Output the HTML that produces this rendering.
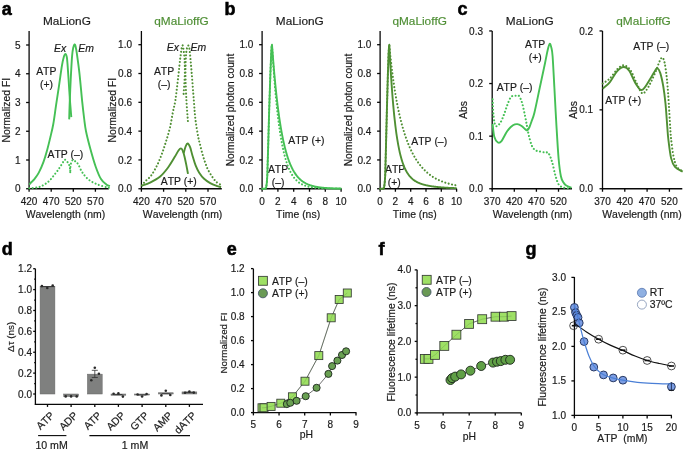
<!DOCTYPE html>
<html><head><meta charset="utf-8"><style>
html,body{margin:0;padding:0;background:#fff;}
svg{display:block;will-change:transform;font-family:"Liberation Sans", sans-serif;font-kerning:none;}
</style></head><body>
<svg width="685" height="452" viewBox="0 0 685 452">
<rect width="685" height="452" fill="#fff"/>
<text x="1.8" y="14.6" font-size="18" text-anchor="start" fill="#000" stroke="#000" stroke-width="0.55" font-weight="bold">a</text>
<text x="224.6" y="14.6" font-size="18" text-anchor="start" fill="#000" stroke="#000" stroke-width="0.55" font-weight="bold">b</text>
<text x="457.6" y="14.6" font-size="18" text-anchor="start" fill="#000" stroke="#000" stroke-width="0.55" font-weight="bold">c</text>
<text x="1.8" y="254.7" font-size="18" text-anchor="start" fill="#000" stroke="#000" stroke-width="0.55" font-weight="bold">d</text>
<text x="226.8" y="255.2" font-size="18" text-anchor="start" fill="#000" stroke="#000" stroke-width="0.55" font-weight="bold">e</text>
<text x="378.6" y="255.2" font-size="18" text-anchor="start" fill="#000" stroke="#000" stroke-width="0.55" font-weight="bold">f</text>
<text x="525.6" y="255.2" font-size="18" text-anchor="start" fill="#000" stroke="#000" stroke-width="0.55" font-weight="bold">g</text>
<line x1="29.1" y1="31" x2="29.1" y2="189.3" stroke="#080808" stroke-width="1.3" />
<line x1="26.1" y1="188.75" x2="29.1" y2="188.75" stroke="#080808" stroke-width="1.3" />
<text x="20.6" y="192.33" font-size="10" text-anchor="end" fill="#1b1b1b" stroke="#1b1b1b" stroke-width="0.18">0</text>
<line x1="26.1" y1="160" x2="29.1" y2="160" stroke="#080808" stroke-width="1.3" />
<text x="20.6" y="163.58" font-size="10" text-anchor="end" fill="#1b1b1b" stroke="#1b1b1b" stroke-width="0.18">1</text>
<line x1="26.1" y1="131.25" x2="29.1" y2="131.25" stroke="#080808" stroke-width="1.3" />
<text x="20.6" y="134.83" font-size="10" text-anchor="end" fill="#1b1b1b" stroke="#1b1b1b" stroke-width="0.18">2</text>
<line x1="26.1" y1="102.5" x2="29.1" y2="102.5" stroke="#080808" stroke-width="1.3" />
<text x="20.6" y="106.08" font-size="10" text-anchor="end" fill="#1b1b1b" stroke="#1b1b1b" stroke-width="0.18">3</text>
<line x1="26.1" y1="73.75" x2="29.1" y2="73.75" stroke="#080808" stroke-width="1.3" />
<text x="20.6" y="77.33" font-size="10" text-anchor="end" fill="#1b1b1b" stroke="#1b1b1b" stroke-width="0.18">4</text>
<line x1="26.1" y1="45" x2="29.1" y2="45" stroke="#080808" stroke-width="1.3" />
<text x="20.6" y="48.58" font-size="10" text-anchor="end" fill="#1b1b1b" stroke="#1b1b1b" stroke-width="0.18">5</text>
<line x1="28.55" y1="188.75" x2="108.8" y2="188.75" stroke="#080808" stroke-width="1.3" />
<line x1="29.1" y1="188.75" x2="29.1" y2="191.75" stroke="#080808" stroke-width="1.3" />
<text x="29.1" y="204.88" font-size="10" text-anchor="middle" fill="#1b1b1b" stroke="#1b1b1b" stroke-width="0.18">420</text>
<line x1="51.2" y1="188.75" x2="51.2" y2="191.75" stroke="#080808" stroke-width="1.3" />
<text x="51.2" y="204.88" font-size="10" text-anchor="middle" fill="#1b1b1b" stroke="#1b1b1b" stroke-width="0.18">470</text>
<line x1="73.3" y1="188.75" x2="73.3" y2="191.75" stroke="#080808" stroke-width="1.3" />
<text x="73.3" y="204.88" font-size="10" text-anchor="middle" fill="#1b1b1b" stroke="#1b1b1b" stroke-width="0.18">520</text>
<line x1="95.4" y1="188.75" x2="95.4" y2="191.75" stroke="#080808" stroke-width="1.3" />
<text x="95.4" y="204.88" font-size="10" text-anchor="middle" fill="#1b1b1b" stroke="#1b1b1b" stroke-width="0.18">570</text>
<text x="10.2" y="110.2" font-size="10.4" text-anchor="middle" fill="#1b1b1b" stroke="#1b1b1b" stroke-width="0.18" transform="rotate(-90 10.2 110.2)">Normalized FI</text>
<text x="65.4" y="217.84" font-size="10.45" text-anchor="middle" fill="#1b1b1b" stroke="#1b1b1b" stroke-width="0.18">Wavelength (nm)</text>
<text x="66.9" y="24.7" font-size="11.8" text-anchor="middle" fill="#1b1b1b" stroke="#1b1b1b" stroke-width="0.18">MaLionG</text>
<text x="60.1" y="51.72" font-size="10.4" text-anchor="middle" fill="#1b1b1b" stroke="#1b1b1b" stroke-width="0.18" font-style="italic">Ex</text>
<text x="86" y="51.72" font-size="10.4" text-anchor="middle" fill="#1b1b1b" stroke="#1b1b1b" stroke-width="0.18" font-style="italic">Em</text>
<text x="46.3" y="74.92" font-size="10.4" text-anchor="middle" fill="#1b1b1b" stroke="#1b1b1b" stroke-width="0.18">ATP</text>
<text x="46.5" y="88.02" font-size="10.4" text-anchor="middle" fill="#1b1b1b" stroke="#1b1b1b" stroke-width="0.18">(+)</text>
<text x="65.4" y="157.72" font-size="10.4" text-anchor="middle" fill="#1b1b1b" stroke="#1b1b1b" stroke-width="0.18">ATP (–)</text>
<path d="M29.3,184.6 C29.67,184.17 30.68,182.87 31.5,182 C32.32,181.13 32.98,180.97 34.2,179.4 C35.42,177.83 37.25,175.53 38.8,172.6 C40.35,169.67 42.08,165.67 43.5,161.8 C44.92,157.93 46.15,153.53 47.3,149.4 C48.45,145.27 49.4,141.23 50.4,137 C51.4,132.77 52.37,129.22 53.3,124 C54.23,118.78 55.05,112.07 56,105.7 C56.95,99.33 58.02,92.43 59,85.8 C59.98,79.17 61.1,70.7 61.9,65.9 C62.7,61.1 63.2,59 63.8,57 C64.4,55 65,53.9 65.5,53.9 C66,53.9 66.47,55.33 66.8,57 C67.13,58.67 67.2,60.1 67.5,63.9 C67.8,67.7 68.2,73.83 68.6,79.8 C69,85.77 69.45,93.48 69.9,99.7 C70.35,105.92 71.07,114.2 71.3,117.1" fill="none" stroke="#45c055" stroke-width="1.9" stroke-linejoin="round" />
<path d="M69.2,119.4 C69.27,117.12 69.35,112.3 69.6,105.7 C69.85,99.1 70.28,88.1 70.7,79.8 C71.12,71.5 71.67,61.28 72.1,55.9 C72.53,50.52 72.9,49.42 73.3,47.5 C73.7,45.58 74.12,44.57 74.5,44.4 C74.88,44.23 75.2,44.92 75.6,46.5 C76,48.08 76.25,49.35 76.9,53.9 C77.55,58.45 78.62,65.83 79.5,73.8 C80.38,81.77 81.42,94.17 82.2,101.7 C82.98,109.23 83.57,114.08 84.2,119 C84.83,123.92 84.97,126.2 86,131.2 C87.03,136.2 88.78,143.08 90.4,149 C92.02,154.92 93.93,161.68 95.7,166.7 C97.47,171.72 99.23,176.15 101,179.1 C102.77,182.05 104.82,183.23 106.3,184.4 C107.78,185.57 109.3,185.82 109.9,186.1" fill="none" stroke="#45c055" stroke-width="1.9" stroke-linejoin="round" />
<path d="M29.3,188.3 C31.02,188.07 36.47,187.97 39.6,186.9 C42.73,185.83 45.6,183.95 48.1,181.9 C50.6,179.85 52.63,177.05 54.6,174.6 C56.57,172.15 58.42,169.38 59.9,167.2 C61.38,165.02 62.63,162.75 63.5,161.5 C64.37,160.25 64.37,159.5 65.1,159.7 C65.83,159.9 67.13,161.58 67.9,162.7 C68.67,163.82 69.3,164.77 69.7,166.4 C70.1,168.03 70.2,171.48 70.3,172.5" fill="none" stroke="#45c055" stroke-width="2.1" stroke-linejoin="round" stroke-dasharray="0.01 3.45" stroke-linecap="round" />
<path d="M70.3,170.5 C70.38,169.42 70.38,165.77 70.8,164 C71.22,162.23 72.02,160.32 72.8,159.9 C73.58,159.48 74.58,160.73 75.5,161.5 C76.42,162.27 77.22,162.77 78.3,164.5 C79.38,166.23 80.37,169.45 82,171.9 C83.63,174.35 85.65,177.17 88.1,179.2 C90.55,181.23 93.63,182.77 96.7,184.1 C99.77,185.43 104.45,186.58 106.5,187.2 C108.55,187.82 108.58,187.7 109,187.8" fill="none" stroke="#45c055" stroke-width="2.1" stroke-linejoin="round" stroke-dasharray="0.01 3.45" stroke-linecap="round" />
<line x1="141.4" y1="31" x2="141.4" y2="189.3" stroke="#080808" stroke-width="1.3" />
<line x1="138.4" y1="188.75" x2="141.4" y2="188.75" stroke="#080808" stroke-width="1.3" />
<text x="132" y="192.33" font-size="10" text-anchor="end" fill="#1b1b1b" stroke="#1b1b1b" stroke-width="0.18">0.0</text>
<line x1="138.4" y1="159.94" x2="141.4" y2="159.94" stroke="#080808" stroke-width="1.3" />
<text x="132" y="163.52" font-size="10" text-anchor="end" fill="#1b1b1b" stroke="#1b1b1b" stroke-width="0.18">0.2</text>
<line x1="138.4" y1="131.13" x2="141.4" y2="131.13" stroke="#080808" stroke-width="1.3" />
<text x="132" y="134.71" font-size="10" text-anchor="end" fill="#1b1b1b" stroke="#1b1b1b" stroke-width="0.18">0.4</text>
<line x1="138.4" y1="102.32" x2="141.4" y2="102.32" stroke="#080808" stroke-width="1.3" />
<text x="132" y="105.9" font-size="10" text-anchor="end" fill="#1b1b1b" stroke="#1b1b1b" stroke-width="0.18">0.6</text>
<line x1="138.4" y1="73.51" x2="141.4" y2="73.51" stroke="#080808" stroke-width="1.3" />
<text x="132" y="77.09" font-size="10" text-anchor="end" fill="#1b1b1b" stroke="#1b1b1b" stroke-width="0.18">0.8</text>
<line x1="138.4" y1="44.7" x2="141.4" y2="44.7" stroke="#080808" stroke-width="1.3" />
<text x="132" y="48.28" font-size="10" text-anchor="end" fill="#1b1b1b" stroke="#1b1b1b" stroke-width="0.18">1.0</text>
<line x1="140.85" y1="188.75" x2="221.8" y2="188.75" stroke="#080808" stroke-width="1.3" />
<line x1="141.4" y1="188.75" x2="141.4" y2="191.75" stroke="#080808" stroke-width="1.3" />
<text x="141.4" y="204.88" font-size="10" text-anchor="middle" fill="#1b1b1b" stroke="#1b1b1b" stroke-width="0.18">420</text>
<line x1="163.6" y1="188.75" x2="163.6" y2="191.75" stroke="#080808" stroke-width="1.3" />
<text x="163.6" y="204.88" font-size="10" text-anchor="middle" fill="#1b1b1b" stroke="#1b1b1b" stroke-width="0.18">470</text>
<line x1="185.8" y1="188.75" x2="185.8" y2="191.75" stroke="#080808" stroke-width="1.3" />
<text x="185.8" y="204.88" font-size="10" text-anchor="middle" fill="#1b1b1b" stroke="#1b1b1b" stroke-width="0.18">520</text>
<line x1="208" y1="188.75" x2="208" y2="191.75" stroke="#080808" stroke-width="1.3" />
<text x="208" y="204.88" font-size="10" text-anchor="middle" fill="#1b1b1b" stroke="#1b1b1b" stroke-width="0.18">570</text>
<text x="115.6" y="110.2" font-size="10.4" text-anchor="middle" fill="#1b1b1b" stroke="#1b1b1b" stroke-width="0.18" transform="rotate(-90 115.6 110.2)">Normalized FI</text>
<text x="182.6" y="217.84" font-size="10.45" text-anchor="middle" fill="#1b1b1b" stroke="#1b1b1b" stroke-width="0.18">Wavelength (nm)</text>
<text x="181.5" y="24.7" font-size="11.8" text-anchor="middle" fill="#4f8f35" stroke="#4f8f35" stroke-width="0.18">qMaLioffG</text>
<text x="172.8" y="51.22" font-size="10.4" text-anchor="middle" fill="#1b1b1b" stroke="#1b1b1b" stroke-width="0.18" font-style="italic">Ex</text>
<text x="198.4" y="51.22" font-size="10.4" text-anchor="middle" fill="#1b1b1b" stroke="#1b1b1b" stroke-width="0.18" font-style="italic">Em</text>
<text x="164" y="75.12" font-size="10.4" text-anchor="middle" fill="#1b1b1b" stroke="#1b1b1b" stroke-width="0.18">ATP</text>
<text x="164.2" y="88.02" font-size="10.4" text-anchor="middle" fill="#1b1b1b" stroke="#1b1b1b" stroke-width="0.18">(–)</text>
<text x="178.8" y="184.52" font-size="10.4" text-anchor="middle" fill="#1b1b1b" stroke="#1b1b1b" stroke-width="0.18">ATP (+)</text>
<path d="M142,185.6 C143.33,185.1 147.02,184.08 150,182.6 C152.98,181.12 156.92,179.18 159.9,176.7 C162.88,174.22 165.42,171.02 167.9,167.7 C170.38,164.38 173.03,159.67 174.8,156.8 C176.57,153.93 177.47,151.9 178.5,150.5 C179.53,149.1 180.28,148.35 181,148.4 C181.72,148.45 182.2,149.38 182.8,150.8 C183.4,152.22 184,154.47 184.6,156.9 C185.2,159.33 185.83,162.57 186.4,165.4 C186.97,168.23 187.73,172.48 188,173.9" fill="none" stroke="#4f8f33" stroke-width="1.9" stroke-linejoin="round" />
<path d="M183.6,153.3 C183.93,152.17 184.93,148.13 185.6,146.5 C186.27,144.87 186.85,143.38 187.6,143.5 C188.35,143.62 189.28,145.17 190.1,147.2 C190.92,149.23 191.58,152.67 192.5,155.7 C193.42,158.73 194.48,162.57 195.6,165.4 C196.72,168.23 197.78,170.47 199.2,172.7 C200.62,174.93 202.27,177.07 204.1,178.8 C205.93,180.53 207.97,181.88 210.2,183.1 C212.43,184.32 215.68,185.43 217.5,186.1 C219.32,186.77 220.5,186.93 221.1,187.1" fill="none" stroke="#4f8f33" stroke-width="1.9" stroke-linejoin="round" />
<path d="M142,185.5 C142.5,184.85 143.5,183.23 145,181.6 C146.5,179.97 149.02,178.35 151,175.7 C152.98,173.05 155.08,169.35 156.9,165.7 C158.72,162.05 160.4,157.78 161.9,153.8 C163.4,149.82 164.57,146.12 165.9,141.8 C167.23,137.48 168.73,132.87 169.9,127.9 C171.07,122.93 171.98,116.65 172.9,112 C173.82,107.35 174.5,106 175.4,100 C176.3,94 177.47,83.17 178.3,76 C179.13,68.83 179.73,62.08 180.4,57 C181.07,51.92 181.77,46.67 182.3,45.5 C182.83,44.33 183.22,47.58 183.6,50 C183.98,52.42 184.4,55.83 184.6,60 C184.8,64.17 184.98,69.08 184.8,75 C184.62,80.92 183.72,92.08 183.5,95.5" fill="none" stroke="#4f8f33" stroke-width="2.1" stroke-linejoin="round" stroke-dasharray="0.01 3.45" stroke-linecap="round" />
<path d="M187.9,121 C187.65,117.5 186.8,107.67 186.4,100 C186,92.33 185.58,82.17 185.5,75 C185.42,67.83 185.68,61.33 185.9,57 C186.12,52.67 186.42,50.92 186.8,49 C187.18,47.08 187.73,45.33 188.2,45.5 C188.67,45.67 189.03,45.58 189.6,50 C190.17,54.42 190.9,63.67 191.6,72 C192.3,80.33 193.17,92.17 193.8,100 C194.43,107.83 194.67,112.87 195.4,119 C196.13,125.13 197.47,132.72 198.2,136.8 C198.93,140.88 199.18,140.97 199.8,143.5 C200.42,146.03 201.08,149.05 201.9,152 C202.72,154.95 203.73,158.35 204.7,161.2 C205.67,164.05 206.48,166.57 207.7,169.1 C208.92,171.63 210.58,174.28 212,176.4 C213.42,178.52 214.72,180.38 216.2,181.8 C217.68,183.22 220.12,184.38 220.9,184.9" fill="none" stroke="#4f8f33" stroke-width="2.1" stroke-linejoin="round" stroke-dasharray="0.01 3.45" stroke-linecap="round" />
<line x1="262.1" y1="31" x2="262.1" y2="189.3" stroke="#080808" stroke-width="1.3" />
<line x1="259.1" y1="188.75" x2="262.1" y2="188.75" stroke="#080808" stroke-width="1.3" />
<text x="253.4" y="192.33" font-size="10" text-anchor="end" fill="#1b1b1b" stroke="#1b1b1b" stroke-width="0.18">0.0</text>
<line x1="259.1" y1="159.94" x2="262.1" y2="159.94" stroke="#080808" stroke-width="1.3" />
<text x="253.4" y="163.52" font-size="10" text-anchor="end" fill="#1b1b1b" stroke="#1b1b1b" stroke-width="0.18">0.2</text>
<line x1="259.1" y1="131.13" x2="262.1" y2="131.13" stroke="#080808" stroke-width="1.3" />
<text x="253.4" y="134.71" font-size="10" text-anchor="end" fill="#1b1b1b" stroke="#1b1b1b" stroke-width="0.18">0.4</text>
<line x1="259.1" y1="102.32" x2="262.1" y2="102.32" stroke="#080808" stroke-width="1.3" />
<text x="253.4" y="105.9" font-size="10" text-anchor="end" fill="#1b1b1b" stroke="#1b1b1b" stroke-width="0.18">0.6</text>
<line x1="259.1" y1="73.51" x2="262.1" y2="73.51" stroke="#080808" stroke-width="1.3" />
<text x="253.4" y="77.09" font-size="10" text-anchor="end" fill="#1b1b1b" stroke="#1b1b1b" stroke-width="0.18">0.8</text>
<line x1="259.1" y1="44.7" x2="262.1" y2="44.7" stroke="#080808" stroke-width="1.3" />
<text x="253.4" y="48.28" font-size="10" text-anchor="end" fill="#1b1b1b" stroke="#1b1b1b" stroke-width="0.18">1.0</text>
<line x1="261.55" y1="188.75" x2="341.5" y2="188.75" stroke="#080808" stroke-width="1.3" />
<line x1="262.1" y1="188.75" x2="262.1" y2="191.75" stroke="#080808" stroke-width="1.3" />
<text x="262.1" y="204.88" font-size="10" text-anchor="middle" fill="#1b1b1b" stroke="#1b1b1b" stroke-width="0.18">0</text>
<line x1="277.9" y1="188.75" x2="277.9" y2="191.75" stroke="#080808" stroke-width="1.3" />
<text x="277.9" y="204.88" font-size="10" text-anchor="middle" fill="#1b1b1b" stroke="#1b1b1b" stroke-width="0.18">2</text>
<line x1="293.7" y1="188.75" x2="293.7" y2="191.75" stroke="#080808" stroke-width="1.3" />
<text x="293.7" y="204.88" font-size="10" text-anchor="middle" fill="#1b1b1b" stroke="#1b1b1b" stroke-width="0.18">4</text>
<line x1="309.5" y1="188.75" x2="309.5" y2="191.75" stroke="#080808" stroke-width="1.3" />
<text x="309.5" y="204.88" font-size="10" text-anchor="middle" fill="#1b1b1b" stroke="#1b1b1b" stroke-width="0.18">6</text>
<line x1="325.3" y1="188.75" x2="325.3" y2="191.75" stroke="#080808" stroke-width="1.3" />
<text x="325.3" y="204.88" font-size="10" text-anchor="middle" fill="#1b1b1b" stroke="#1b1b1b" stroke-width="0.18">8</text>
<line x1="341.1" y1="188.75" x2="341.1" y2="191.75" stroke="#080808" stroke-width="1.3" />
<text x="341.1" y="204.88" font-size="10" text-anchor="middle" fill="#1b1b1b" stroke="#1b1b1b" stroke-width="0.18">10</text>
<text x="233.6" y="110" font-size="10.15" text-anchor="middle" fill="#1b1b1b" stroke="#1b1b1b" stroke-width="0.18" transform="rotate(-90 233.6 110)">Normalized photon count</text>
<text x="298.1" y="217.84" font-size="10.45" text-anchor="middle" fill="#1b1b1b" stroke="#1b1b1b" stroke-width="0.18">Time (ns)</text>
<text x="299.8" y="24.7" font-size="11.8" text-anchor="middle" fill="#1b1b1b" stroke="#1b1b1b" stroke-width="0.18">MaLionG</text>
<text x="306.4" y="144.12" font-size="10.4" text-anchor="middle" fill="#1b1b1b" stroke="#1b1b1b" stroke-width="0.18">ATP (+)</text>
<text x="278" y="173.12" font-size="10.4" text-anchor="middle" fill="#1b1b1b" stroke="#1b1b1b" stroke-width="0.18">ATP</text>
<text x="278.2" y="186.02" font-size="10.4" text-anchor="middle" fill="#1b1b1b" stroke="#1b1b1b" stroke-width="0.18">(–)</text>
<path d="M262.1,188.75 L265.4,188.75 L266.2,187.31 L266.8,182.99 L267.3,175.79 L268.2,145.53 L269.2,109.52 L270.4,73.51 L271.2,53.34 L271.6,46.86 L272,44.7 L272.35,49.5 L272.7,54.14 L273.05,58.63 L273.4,62.97 L273.75,67.16 L274.1,71.22 L274.44,75.14 L274.79,78.92 L275.14,82.59 L275.49,86.12 L275.84,89.55 L276.19,92.85 L276.54,96.05 L276.89,99.14 L277.24,102.13 L277.59,105.02 L277.94,107.81 L278.29,110.51 L278.64,113.11 L278.98,115.64 L279.33,118.07 L279.68,120.43 L280.03,122.71 L280.38,124.91 L280.73,127.04 L281.08,129.1 L281.43,131.08 L281.78,133.01 L282.13,134.87 L282.48,136.66 L282.83,138.4 L283.18,140.08 L283.53,141.7 L283.87,143.27 L284.22,144.78 L284.57,146.25 L284.92,147.67 L285.27,149.04 L285.62,150.36 L285.97,151.64 L286.32,152.88 L286.67,154.07 L287.02,155.23 L287.37,156.35 L287.72,157.43 L288.07,158.47 L288.41,159.48 L288.76,160.46 L289.11,161.4 L289.46,162.31 L289.81,163.19 L290.16,164.05 L290.51,164.87 L290.86,165.67 L291.21,166.44 L291.56,167.18 L291.91,167.9 L292.26,168.59 L292.61,169.27 L292.95,169.92 L293.3,170.54 L293.65,171.15 L294,171.74 L294.35,172.3 L294.7,172.85 L295.05,173.38 L295.4,173.89 L295.75,174.39 L296.1,174.87 L296.45,175.33 L296.8,175.78 L297.15,176.21 L297.49,176.63 L297.84,177.03 L298.19,177.42 L298.54,177.8 L298.89,178.17 L299.24,178.52 L299.59,178.86 L299.94,179.19 L300.29,179.51 L300.64,179.82 L300.99,180.11 L301.34,180.4 L301.69,180.68 L302.04,180.95 L302.38,181.21 L302.73,181.46 L303.08,181.7 L303.43,181.94 L303.78,182.17 L304.13,182.39 L304.48,182.6 L304.83,182.8 L305.18,183 L305.53,183.19 L305.88,183.38 L306.23,183.56 L306.58,183.73 L306.92,183.9 L307.27,184.06 L307.62,184.22 L307.97,184.37 L308.32,184.51 L308.67,184.65 L309.02,184.79 L309.37,184.92 L309.72,185.05 L310.07,185.17 L310.42,185.29 L310.77,185.41 L311.12,185.52 L311.46,185.63 L311.81,185.73 L312.16,185.83 L312.51,185.93 L312.86,186.02 L313.21,186.11 L313.56,186.2 L313.91,186.29 L314.26,186.37 L314.61,186.45 L314.96,186.53 L315.31,186.6 L315.66,186.67 L316.01,186.74 L316.35,186.81 L316.7,186.87 L317.05,186.93 L317.4,187 L317.75,187.05 L318.1,187.11 L318.45,187.17 L318.8,187.22 L319.15,187.27 L319.5,187.32 L319.85,187.37 L320.2,187.41 L320.55,187.46 L320.89,187.5 L321.24,187.54 L321.59,187.58 L321.94,187.62 L322.29,187.66 L322.64,187.69 L322.99,187.73 L323.34,187.76 L323.69,187.8 L324.04,187.83 L324.39,187.86 L324.74,187.89 L325.09,187.92 L325.43,187.95 L325.78,187.97 L326.13,188 L326.48,188.02 L326.83,188.05 L327.18,188.07 L327.53,188.09 L327.88,188.12 L328.23,188.14 L328.58,188.16 L328.93,188.18 L329.28,188.2 L329.63,188.21 L329.97,188.23 L330.32,188.25 L330.67,188.27 L331.02,188.28 L331.37,188.3 L331.72,188.31 L332.07,188.33 L332.42,188.34 L332.77,188.36 L333.12,188.37 L333.47,188.38 L333.82,188.39 L334.17,188.41 L334.52,188.42 L334.86,188.43 L335.21,188.44 L335.56,188.45 L335.91,188.46 L336.26,188.47 L336.61,188.48 L336.96,188.49 L337.31,188.5 L337.66,188.5 L338.01,188.51 L338.36,188.52 L338.71,188.53 L339.06,188.54 L339.4,188.54 L339.75,188.55 L340.1,188.56 L340.45,188.56 L340.8,188.57 L341.15,188.58 L341.5,188.58" fill="none" stroke="#45c055" stroke-width="1.9" stroke-linejoin="round" />
<path d="M262.1,188.75 L265.4,188.75 L266.2,187.31 L266.8,182.99 L267.3,175.79 L268.2,145.53 L269.2,109.52 L270.4,73.51 L271.2,53.34 L271.6,46.86 L272,44.7 L272.35,50.43 L272.7,55.94 L273.05,61.22 L273.4,66.3 L273.75,71.17 L274.1,75.85 L274.44,80.34 L274.79,84.66 L275.14,88.8 L275.49,92.78 L275.84,96.6 L276.19,100.26 L276.54,103.79 L276.89,107.17 L277.24,110.41 L277.59,113.53 L277.94,116.52 L278.29,119.4 L278.64,122.16 L278.98,124.81 L279.33,127.35 L279.68,129.8 L280.03,132.14 L280.38,134.4 L280.73,136.56 L281.08,138.64 L281.43,140.63 L281.78,142.55 L282.13,144.38 L282.48,146.15 L282.83,147.85 L283.18,149.47 L283.53,151.04 L283.87,152.54 L284.22,153.98 L284.57,155.36 L284.92,156.69 L285.27,157.97 L285.62,159.19 L285.97,160.37 L286.32,161.5 L286.67,162.58 L287.02,163.62 L287.37,164.62 L287.72,165.58 L288.07,166.51 L288.41,167.39 L288.76,168.24 L289.11,169.06 L289.46,169.84 L289.81,170.59 L290.16,171.32 L290.51,172.01 L290.86,172.68 L291.21,173.32 L291.56,173.93 L291.91,174.52 L292.26,175.09 L292.61,175.63 L292.95,176.15 L293.3,176.65 L293.65,177.13 L294,177.6 L294.35,178.04 L294.7,178.47 L295.05,178.88 L295.4,179.27 L295.75,179.65 L296.1,180.01 L296.45,180.36 L296.8,180.69 L297.15,181.01 L297.49,181.32 L297.84,181.61 L298.19,181.9 L298.54,182.17 L298.89,182.43 L299.24,182.68 L299.59,182.93 L299.94,183.16 L300.29,183.38 L300.64,183.59 L300.99,183.8 L301.34,184 L301.69,184.19 L302.04,184.37 L302.38,184.54 L302.73,184.71 L303.08,184.87 L303.43,185.02 L303.78,185.17 L304.13,185.31 L304.48,185.45 L304.83,185.58 L305.18,185.71 L305.53,185.83 L305.88,185.95 L306.23,186.06 L306.58,186.16 L306.92,186.27 L307.27,186.37 L307.62,186.46 L307.97,186.55 L308.32,186.64 L308.67,186.72 L309.02,186.8 L309.37,186.88 L309.72,186.96 L310.07,187.03 L310.42,187.1 L310.77,187.16 L311.12,187.23 L311.46,187.29 L311.81,187.34 L312.16,187.4 L312.51,187.45 L312.86,187.51 L313.21,187.55 L313.56,187.6 L313.91,187.65 L314.26,187.69 L314.61,187.73 L314.96,187.77 L315.31,187.81 L315.66,187.85 L316.01,187.89 L316.35,187.92 L316.7,187.95 L317.05,187.99 L317.4,188.02 L317.75,188.05 L318.1,188.07 L318.45,188.1 L318.8,188.13 L319.15,188.15 L319.5,188.17 L319.85,188.2 L320.2,188.22 L320.55,188.24 L320.89,188.26 L321.24,188.28 L321.59,188.3 L321.94,188.32 L322.29,188.33 L322.64,188.35 L322.99,188.37 L323.34,188.38 L323.69,188.4 L324.04,188.41 L324.39,188.42 L324.74,188.44 L325.09,188.45 L325.43,188.46 L325.78,188.47 L326.13,188.48 L326.48,188.49 L326.83,188.5 L327.18,188.51 L327.53,188.52 L327.88,188.53 L328.23,188.54 L328.58,188.55 L328.93,188.56 L329.28,188.57 L329.63,188.57 L329.97,188.58 L330.32,188.59 L330.67,188.59 L331.02,188.6 L331.37,188.61 L331.72,188.61 L332.07,188.62 L332.42,188.62 L332.77,188.63 L333.12,188.63 L333.47,188.64 L333.82,188.64 L334.17,188.65 L334.52,188.65 L334.86,188.65 L335.21,188.66 L335.56,188.66 L335.91,188.66 L336.26,188.67 L336.61,188.67 L336.96,188.67 L337.31,188.68 L337.66,188.68 L338.01,188.68 L338.36,188.69 L338.71,188.69 L339.06,188.69 L339.4,188.69 L339.75,188.7 L340.1,188.7 L340.45,188.7 L340.8,188.7 L341.15,188.7 L341.5,188.71" fill="none" stroke="#45c055" stroke-width="2.1" stroke-linejoin="round" stroke-dasharray="0.01 3.45" stroke-linecap="round" />
<line x1="380.1" y1="31" x2="380.1" y2="189.3" stroke="#080808" stroke-width="1.3" />
<line x1="377.1" y1="188.75" x2="380.1" y2="188.75" stroke="#080808" stroke-width="1.3" />
<text x="371.4" y="192.33" font-size="10" text-anchor="end" fill="#1b1b1b" stroke="#1b1b1b" stroke-width="0.18">0.0</text>
<line x1="377.1" y1="159.94" x2="380.1" y2="159.94" stroke="#080808" stroke-width="1.3" />
<text x="371.4" y="163.52" font-size="10" text-anchor="end" fill="#1b1b1b" stroke="#1b1b1b" stroke-width="0.18">0.2</text>
<line x1="377.1" y1="131.13" x2="380.1" y2="131.13" stroke="#080808" stroke-width="1.3" />
<text x="371.4" y="134.71" font-size="10" text-anchor="end" fill="#1b1b1b" stroke="#1b1b1b" stroke-width="0.18">0.4</text>
<line x1="377.1" y1="102.32" x2="380.1" y2="102.32" stroke="#080808" stroke-width="1.3" />
<text x="371.4" y="105.9" font-size="10" text-anchor="end" fill="#1b1b1b" stroke="#1b1b1b" stroke-width="0.18">0.6</text>
<line x1="377.1" y1="73.51" x2="380.1" y2="73.51" stroke="#080808" stroke-width="1.3" />
<text x="371.4" y="77.09" font-size="10" text-anchor="end" fill="#1b1b1b" stroke="#1b1b1b" stroke-width="0.18">0.8</text>
<line x1="377.1" y1="44.7" x2="380.1" y2="44.7" stroke="#080808" stroke-width="1.3" />
<text x="371.4" y="48.28" font-size="10" text-anchor="end" fill="#1b1b1b" stroke="#1b1b1b" stroke-width="0.18">1.0</text>
<line x1="379.55" y1="188.75" x2="456.7" y2="188.75" stroke="#080808" stroke-width="1.3" />
<line x1="380.1" y1="188.75" x2="380.1" y2="191.75" stroke="#080808" stroke-width="1.3" />
<text x="380.1" y="204.88" font-size="10" text-anchor="middle" fill="#1b1b1b" stroke="#1b1b1b" stroke-width="0.18">0</text>
<line x1="395.4" y1="188.75" x2="395.4" y2="191.75" stroke="#080808" stroke-width="1.3" />
<text x="395.4" y="204.88" font-size="10" text-anchor="middle" fill="#1b1b1b" stroke="#1b1b1b" stroke-width="0.18">2</text>
<line x1="410.7" y1="188.75" x2="410.7" y2="191.75" stroke="#080808" stroke-width="1.3" />
<text x="410.7" y="204.88" font-size="10" text-anchor="middle" fill="#1b1b1b" stroke="#1b1b1b" stroke-width="0.18">4</text>
<line x1="426" y1="188.75" x2="426" y2="191.75" stroke="#080808" stroke-width="1.3" />
<text x="426" y="204.88" font-size="10" text-anchor="middle" fill="#1b1b1b" stroke="#1b1b1b" stroke-width="0.18">6</text>
<line x1="441.3" y1="188.75" x2="441.3" y2="191.75" stroke="#080808" stroke-width="1.3" />
<text x="441.3" y="204.88" font-size="10" text-anchor="middle" fill="#1b1b1b" stroke="#1b1b1b" stroke-width="0.18">8</text>
<line x1="456.6" y1="188.75" x2="456.6" y2="191.75" stroke="#080808" stroke-width="1.3" />
<text x="456.6" y="204.88" font-size="10" text-anchor="middle" fill="#1b1b1b" stroke="#1b1b1b" stroke-width="0.18">10</text>
<text x="352.4" y="110" font-size="10.15" text-anchor="middle" fill="#1b1b1b" stroke="#1b1b1b" stroke-width="0.18" transform="rotate(-90 352.4 110)">Normalized photon count</text>
<text x="414.8" y="217.84" font-size="10.45" text-anchor="middle" fill="#1b1b1b" stroke="#1b1b1b" stroke-width="0.18">Time (ns)</text>
<text x="419.7" y="24.7" font-size="11.8" text-anchor="middle" fill="#4f8f35" stroke="#4f8f35" stroke-width="0.18">qMaLioffG</text>
<text x="429.2" y="144.72" font-size="10.4" text-anchor="middle" fill="#1b1b1b" stroke="#1b1b1b" stroke-width="0.18">ATP (–)</text>
<text x="395.1" y="172.72" font-size="10.4" text-anchor="middle" fill="#1b1b1b" stroke="#1b1b1b" stroke-width="0.18">ATP</text>
<text x="394.3" y="186.02" font-size="10.4" text-anchor="middle" fill="#1b1b1b" stroke="#1b1b1b" stroke-width="0.18">(+)</text>
<path d="M380.1,188.75 L383.3,188.75 L384.1,187.31 L384.7,182.99 L385.2,175.79 L386,145.53 L386.9,109.52 L387.9,73.51 L388.6,53.34 L389,46.86 L389.3,44.7 L389.64,51.4 L389.98,57.77 L390.31,63.83 L390.65,69.58 L390.99,75.04 L391.33,80.23 L391.67,85.17 L392.01,89.86 L392.34,94.32 L392.68,98.56 L393.02,102.59 L393.36,106.42 L393.7,110.07 L394.03,113.54 L394.37,116.83 L394.71,119.97 L395.05,122.95 L395.39,125.79 L395.73,128.5 L396.06,131.07 L396.4,133.52 L396.74,135.85 L397.08,138.07 L397.42,140.18 L397.75,142.2 L398.09,144.11 L398.43,145.94 L398.77,147.68 L399.11,149.34 L399.45,150.92 L399.78,152.43 L400.12,153.87 L400.46,155.24 L400.8,156.55 L401.14,157.8 L401.47,158.99 L401.81,160.12 L402.15,161.21 L402.49,162.25 L402.83,163.23 L403.17,164.18 L403.5,165.08 L403.84,165.95 L404.18,166.77 L404.52,167.56 L404.86,168.31 L405.19,169.03 L405.53,169.72 L405.87,170.38 L406.21,171.01 L406.55,171.62 L406.89,172.2 L407.22,172.75 L407.56,173.28 L407.9,173.79 L408.24,174.28 L408.58,174.75 L408.92,175.2 L409.25,175.63 L409.59,176.05 L409.93,176.44 L410.27,176.82 L410.61,177.19 L410.94,177.54 L411.28,177.88 L411.62,178.21 L411.96,178.52 L412.3,178.82 L412.64,179.11 L412.97,179.39 L413.31,179.65 L413.65,179.91 L413.99,180.16 L414.33,180.4 L414.66,180.63 L415,180.86 L415.34,181.07 L415.68,181.28 L416.02,181.48 L416.36,181.67 L416.69,181.86 L417.03,182.04 L417.37,182.21 L417.71,182.38 L418.05,182.54 L418.38,182.7 L418.72,182.85 L419.06,183 L419.4,183.14 L419.74,183.28 L420.08,183.42 L420.41,183.55 L420.75,183.67 L421.09,183.79 L421.43,183.91 L421.77,184.03 L422.1,184.14 L422.44,184.25 L422.78,184.35 L423.12,184.45 L423.46,184.55 L423.8,184.65 L424.13,184.74 L424.47,184.83 L424.81,184.92 L425.15,185 L425.49,185.09 L425.82,185.17 L426.16,185.25 L426.5,185.32 L426.84,185.4 L427.18,185.47 L427.52,185.54 L427.85,185.61 L428.19,185.68 L428.53,185.74 L428.87,185.81 L429.21,185.87 L429.54,185.93 L429.88,185.99 L430.22,186.05 L430.56,186.1 L430.9,186.16 L431.24,186.21 L431.57,186.27 L431.91,186.32 L432.25,186.37 L432.59,186.42 L432.93,186.46 L433.26,186.51 L433.6,186.55 L433.94,186.6 L434.28,186.64 L434.62,186.69 L434.96,186.73 L435.29,186.77 L435.63,186.81 L435.97,186.85 L436.31,186.88 L436.65,186.92 L436.98,186.96 L437.32,186.99 L437.66,187.03 L438,187.06 L438.34,187.09 L438.68,187.13 L439.01,187.16 L439.35,187.19 L439.69,187.22 L440.03,187.25 L440.37,187.28 L440.71,187.31 L441.04,187.34 L441.38,187.36 L441.72,187.39 L442.06,187.42 L442.4,187.44 L442.73,187.47 L443.07,187.49 L443.41,187.52 L443.75,187.54 L444.09,187.56 L444.43,187.59 L444.76,187.61 L445.1,187.63 L445.44,187.65 L445.78,187.67 L446.12,187.69 L446.45,187.71 L446.79,187.73 L447.13,187.75 L447.47,187.77 L447.81,187.79 L448.15,187.81 L448.48,187.83 L448.82,187.84 L449.16,187.86 L449.5,187.88 L449.84,187.89 L450.17,187.91 L450.51,187.93 L450.85,187.94 L451.19,187.96 L451.53,187.97 L451.87,187.99 L452.2,188 L452.54,188.02 L452.88,188.03 L453.22,188.04 L453.56,188.06 L453.89,188.07 L454.23,188.08 L454.57,188.09 L454.91,188.11 L455.25,188.12 L455.59,188.13 L455.92,188.14 L456.26,188.15 L456.6,188.16" fill="none" stroke="#4f8f33" stroke-width="1.9" stroke-linejoin="round" />
<path d="M380.1,188.75 L383.3,188.75 L384.1,187.31 L384.7,182.99 L385.2,175.79 L386,145.53 L386.9,109.52 L387.9,73.51 L388.6,53.34 L389,46.86 L389.3,44.7 L389.64,48.31 L389.98,51.78 L390.31,55.13 L390.65,58.37 L390.99,61.49 L391.33,64.5 L391.67,67.41 L392.01,70.22 L392.34,72.94 L392.68,75.58 L393.02,78.13 L393.36,80.6 L393.7,82.99 L394.03,85.31 L394.37,87.57 L394.71,89.75 L395.05,91.87 L395.39,93.93 L395.73,95.94 L396.06,97.88 L396.4,99.78 L396.74,101.62 L397.08,103.41 L397.42,105.16 L397.75,106.86 L398.09,108.52 L398.43,110.13 L398.77,111.71 L399.11,113.24 L399.45,114.74 L399.78,116.2 L400.12,117.63 L400.46,119.02 L400.8,120.38 L401.14,121.71 L401.47,123 L401.81,124.27 L402.15,125.51 L402.49,126.72 L402.83,127.91 L403.17,129.07 L403.5,130.2 L403.84,131.31 L404.18,132.4 L404.52,133.46 L404.86,134.5 L405.19,135.52 L405.53,136.51 L405.87,137.49 L406.21,138.45 L406.55,139.38 L406.89,140.3 L407.22,141.2 L407.56,142.08 L407.9,142.94 L408.24,143.79 L408.58,144.62 L408.92,145.43 L409.25,146.23 L409.59,147.01 L409.93,147.77 L410.27,148.52 L410.61,149.26 L410.94,149.98 L411.28,150.69 L411.62,151.39 L411.96,152.07 L412.3,152.74 L412.64,153.39 L412.97,154.04 L413.31,154.67 L413.65,155.29 L413.99,155.89 L414.33,156.49 L414.66,157.07 L415,157.65 L415.34,158.21 L415.68,158.76 L416.02,159.31 L416.36,159.84 L416.69,160.36 L417.03,160.88 L417.37,161.38 L417.71,161.87 L418.05,162.36 L418.38,162.84 L418.72,163.3 L419.06,163.76 L419.4,164.21 L419.74,164.65 L420.08,165.09 L420.41,165.51 L420.75,165.93 L421.09,166.34 L421.43,166.75 L421.77,167.14 L422.1,167.53 L422.44,167.91 L422.78,168.29 L423.12,168.66 L423.46,169.02 L423.8,169.37 L424.13,169.72 L424.47,170.06 L424.81,170.4 L425.15,170.73 L425.49,171.05 L425.82,171.37 L426.16,171.68 L426.5,171.99 L426.84,172.29 L427.18,172.59 L427.52,172.88 L427.85,173.16 L428.19,173.44 L428.53,173.72 L428.87,173.99 L429.21,174.25 L429.54,174.51 L429.88,174.77 L430.22,175.02 L430.56,175.26 L430.9,175.51 L431.24,175.74 L431.57,175.98 L431.91,176.21 L432.25,176.43 L432.59,176.65 L432.93,176.87 L433.26,177.08 L433.6,177.29 L433.94,177.5 L434.28,177.7 L434.62,177.9 L434.96,178.09 L435.29,178.28 L435.63,178.47 L435.97,178.65 L436.31,178.84 L436.65,179.01 L436.98,179.19 L437.32,179.36 L437.66,179.53 L438,179.69 L438.34,179.86 L438.68,180.01 L439.01,180.17 L439.35,180.33 L439.69,180.48 L440.03,180.62 L440.37,180.77 L440.71,180.91 L441.04,181.05 L441.38,181.19 L441.72,181.33 L442.06,181.46 L442.4,181.59 L442.73,181.72 L443.07,181.85 L443.41,181.97 L443.75,182.09 L444.09,182.21 L444.43,182.33 L444.76,182.44 L445.1,182.56 L445.44,182.67 L445.78,182.78 L446.12,182.88 L446.45,182.99 L446.79,183.09 L447.13,183.19 L447.47,183.29 L447.81,183.39 L448.15,183.49 L448.48,183.58 L448.82,183.67 L449.16,183.76 L449.5,183.85 L449.84,183.94 L450.17,184.03 L450.51,184.11 L450.85,184.2 L451.19,184.28 L451.53,184.36 L451.87,184.44 L452.2,184.51 L452.54,184.59 L452.88,184.66 L453.22,184.74 L453.56,184.81 L453.89,184.88 L454.23,184.95 L454.57,185.02 L454.91,185.08 L455.25,185.15 L455.59,185.21 L455.92,185.28 L456.26,185.34 L456.6,185.4" fill="none" stroke="#4f8f33" stroke-width="2.1" stroke-linejoin="round" stroke-dasharray="0.01 3.45" stroke-linecap="round" />
<line x1="492.2" y1="31" x2="492.2" y2="189.3" stroke="#080808" stroke-width="1.3" />
<line x1="489.2" y1="188.75" x2="492.2" y2="188.75" stroke="#080808" stroke-width="1.3" />
<text x="483" y="192.33" font-size="10" text-anchor="end" fill="#1b1b1b" stroke="#1b1b1b" stroke-width="0.18">0.0</text>
<line x1="489.2" y1="136.15" x2="492.2" y2="136.15" stroke="#080808" stroke-width="1.3" />
<text x="483" y="139.73" font-size="10" text-anchor="end" fill="#1b1b1b" stroke="#1b1b1b" stroke-width="0.18">0.1</text>
<line x1="489.2" y1="83.55" x2="492.2" y2="83.55" stroke="#080808" stroke-width="1.3" />
<text x="483" y="87.13" font-size="10" text-anchor="end" fill="#1b1b1b" stroke="#1b1b1b" stroke-width="0.18">0.2</text>
<line x1="489.2" y1="30.95" x2="492.2" y2="30.95" stroke="#080808" stroke-width="1.3" />
<text x="483" y="34.53" font-size="10" text-anchor="end" fill="#1b1b1b" stroke="#1b1b1b" stroke-width="0.18">0.3</text>
<line x1="491.65" y1="188.75" x2="572" y2="188.75" stroke="#080808" stroke-width="1.3" />
<line x1="492.2" y1="188.75" x2="492.2" y2="191.75" stroke="#080808" stroke-width="1.3" />
<text x="492.2" y="204.88" font-size="10" text-anchor="middle" fill="#1b1b1b" stroke="#1b1b1b" stroke-width="0.18">370</text>
<line x1="514.3" y1="188.75" x2="514.3" y2="191.75" stroke="#080808" stroke-width="1.3" />
<text x="514.3" y="204.88" font-size="10" text-anchor="middle" fill="#1b1b1b" stroke="#1b1b1b" stroke-width="0.18">420</text>
<line x1="536.4" y1="188.75" x2="536.4" y2="191.75" stroke="#080808" stroke-width="1.3" />
<text x="536.4" y="204.88" font-size="10" text-anchor="middle" fill="#1b1b1b" stroke="#1b1b1b" stroke-width="0.18">470</text>
<line x1="558.5" y1="188.75" x2="558.5" y2="191.75" stroke="#080808" stroke-width="1.3" />
<text x="558.5" y="204.88" font-size="10" text-anchor="middle" fill="#1b1b1b" stroke="#1b1b1b" stroke-width="0.18">520</text>
<text x="467.4" y="110" font-size="10.4" text-anchor="middle" fill="#1b1b1b" stroke="#1b1b1b" stroke-width="0.18" transform="rotate(-90 467.4 110)">Abs</text>
<text x="532.4" y="217.84" font-size="10.45" text-anchor="middle" fill="#1b1b1b" stroke="#1b1b1b" stroke-width="0.18">Wavelength (nm)</text>
<text x="529.8" y="24.7" font-size="11.8" text-anchor="middle" fill="#1b1b1b" stroke="#1b1b1b" stroke-width="0.18">MaLionG</text>
<text x="535.1" y="47.62" font-size="10.4" text-anchor="middle" fill="#1b1b1b" stroke="#1b1b1b" stroke-width="0.18">ATP</text>
<text x="535.3" y="60.92" font-size="10.4" text-anchor="middle" fill="#1b1b1b" stroke="#1b1b1b" stroke-width="0.18">(+)</text>
<text x="514.6" y="91.42" font-size="10.4" text-anchor="middle" fill="#1b1b1b" stroke="#1b1b1b" stroke-width="0.18">ATP (–)</text>
<path d="M492.6,123.8 C492.88,125.97 493.42,133.68 494.3,136.8 C495.18,139.92 496.7,141.78 497.9,142.5 C499.1,143.22 499.93,143.02 501.5,141.1 C503.07,139.18 505.38,133.63 507.3,131 C509.22,128.37 511.33,126.45 513,125.3 C514.67,124.15 515.87,123.98 517.3,124.1 C518.73,124.22 520.23,125.1 521.6,126 C522.97,126.9 524.53,128.78 525.5,129.5 C526.47,130.22 526.73,130.72 527.4,130.3 C528.07,129.88 528.82,128.47 529.5,127 C530.18,125.53 530.68,123.88 531.5,121.5 C532.32,119.12 533.03,118.28 534.4,112.7 C535.77,107.12 537.93,96.25 539.7,88 C541.47,79.75 543.67,69.53 545,63.2 C546.33,56.87 546.92,53.23 547.7,50 C548.48,46.77 549.1,44.22 549.7,43.8 C550.3,43.38 550.82,45.43 551.3,47.5 C551.78,49.57 552.08,49.45 552.6,56.2 C553.12,62.95 553.78,76.83 554.4,88 C555.02,99.17 555.6,111.45 556.3,123.2 C557,134.95 557.83,149.67 558.6,158.5 C559.37,167.33 560.08,172.2 560.9,176.2 C561.72,180.2 562.62,180.95 563.5,182.5 C564.38,184.05 564.87,184.62 566.2,185.5 C567.53,186.38 570.62,187.42 571.5,187.8" fill="none" stroke="#45c055" stroke-width="1.9" stroke-linejoin="round" />
<path d="M492.6,99.4 C492.77,102.27 493.07,112.17 493.6,116.6 C494.13,121.03 494.72,124.92 495.8,126 C496.88,127.08 498.78,124.9 500.1,123.1 C501.42,121.3 502.5,118.2 503.7,115.2 C504.9,112.2 506.12,108.1 507.3,105.1 C508.48,102.1 509.62,98.75 510.8,97.2 C511.98,95.65 513.28,96 514.4,95.8 C515.52,95.6 516.65,95.88 517.5,96 C518.35,96.12 518.7,95.22 519.5,96.5 C520.3,97.78 521.35,100.35 522.3,103.7 C523.25,107.05 524.4,112.77 525.2,116.6 C526,120.43 526.5,123.58 527.1,126.7 C527.7,129.82 528.03,132.18 528.8,135.3 C529.57,138.42 530.67,142.95 531.7,145.4 C532.73,147.85 533.67,148.98 535,150 C536.33,151.02 538.03,151.08 539.7,151.5 C541.37,151.92 543.53,152.22 545,152.5 C546.47,152.78 547.32,151.62 548.5,153.2 C549.68,154.78 550.92,158.17 552.1,162 C553.28,165.83 554.43,172.37 555.6,176.2 C556.77,180.03 557.63,183.07 559.1,185 C560.57,186.93 562.75,187.25 564.4,187.8 C566.05,188.35 568.23,188.22 569,188.3" fill="none" stroke="#45c055" stroke-width="2.1" stroke-linejoin="round" stroke-dasharray="0.01 3.45" stroke-linecap="round" />
<line x1="602.5" y1="31" x2="602.5" y2="189.3" stroke="#080808" stroke-width="1.3" />
<line x1="599.5" y1="188.75" x2="602.5" y2="188.75" stroke="#080808" stroke-width="1.3" />
<text x="593.2" y="192.33" font-size="10" text-anchor="end" fill="#1b1b1b" stroke="#1b1b1b" stroke-width="0.18">0.0</text>
<line x1="599.5" y1="109.85" x2="602.5" y2="109.85" stroke="#080808" stroke-width="1.3" />
<text x="593.2" y="113.43" font-size="10" text-anchor="end" fill="#1b1b1b" stroke="#1b1b1b" stroke-width="0.18">0.1</text>
<line x1="599.5" y1="30.95" x2="602.5" y2="30.95" stroke="#080808" stroke-width="1.3" />
<text x="593.2" y="34.53" font-size="10" text-anchor="end" fill="#1b1b1b" stroke="#1b1b1b" stroke-width="0.18">0.2</text>
<line x1="601.95" y1="188.75" x2="682.3" y2="188.75" stroke="#080808" stroke-width="1.3" />
<line x1="602.5" y1="188.75" x2="602.5" y2="191.75" stroke="#080808" stroke-width="1.3" />
<text x="602.5" y="204.88" font-size="10" text-anchor="middle" fill="#1b1b1b" stroke="#1b1b1b" stroke-width="0.18">370</text>
<line x1="624.8" y1="188.75" x2="624.8" y2="191.75" stroke="#080808" stroke-width="1.3" />
<text x="624.8" y="204.88" font-size="10" text-anchor="middle" fill="#1b1b1b" stroke="#1b1b1b" stroke-width="0.18">420</text>
<line x1="647.1" y1="188.75" x2="647.1" y2="191.75" stroke="#080808" stroke-width="1.3" />
<text x="647.1" y="204.88" font-size="10" text-anchor="middle" fill="#1b1b1b" stroke="#1b1b1b" stroke-width="0.18">470</text>
<line x1="669.4" y1="188.75" x2="669.4" y2="191.75" stroke="#080808" stroke-width="1.3" />
<text x="669.4" y="204.88" font-size="10" text-anchor="middle" fill="#1b1b1b" stroke="#1b1b1b" stroke-width="0.18">520</text>
<text x="577.4" y="110" font-size="10.4" text-anchor="middle" fill="#1b1b1b" stroke="#1b1b1b" stroke-width="0.18" transform="rotate(-90 577.4 110)">Abs</text>
<text x="642" y="218.24" font-size="10.45" text-anchor="middle" fill="#1b1b1b" stroke="#1b1b1b" stroke-width="0.18">Wavelength (nm)</text>
<text x="643.5" y="24.7" font-size="11.8" text-anchor="middle" fill="#4f8f35" stroke="#4f8f35" stroke-width="0.18">qMaLioffG</text>
<text x="651.2" y="50.42" font-size="10.4" text-anchor="middle" fill="#1b1b1b" stroke="#1b1b1b" stroke-width="0.18">ATP (–)</text>
<text x="623.2" y="103.92" font-size="10.4" text-anchor="middle" fill="#1b1b1b" stroke="#1b1b1b" stroke-width="0.18">ATP (+)</text>
<path d="M602.7,88.7 C603.87,87.63 607.32,85.2 609.7,82.3 C612.08,79.4 614.67,73.85 617,71.3 C619.33,68.75 621.67,67.1 623.7,67 C625.73,66.9 627.27,68.05 629.2,70.7 C631.13,73.35 633.37,79.7 635.3,82.9 C637.23,86.1 639.18,89.2 640.8,89.9 C642.42,90.6 643.28,89.18 645,87.1 C646.72,85.02 649.35,80.25 651.1,77.4 C652.85,74.55 654.43,71.52 655.5,70 C656.57,68.48 656.7,67.78 657.5,68.3 C658.3,68.82 659.33,70.07 660.3,73.1 C661.27,76.13 662.43,81.42 663.3,86.5 C664.17,91.58 664.83,96.85 665.5,103.6 C666.17,110.35 666.83,121.12 667.3,127 C667.77,132.88 667.67,133.72 668.3,138.9 C668.93,144.08 669.98,153.45 671.1,158.1 C672.22,162.75 673.07,164.55 675,166.8 C676.93,169.05 681.42,170.8 682.7,171.6" fill="none" stroke="#4f8f33" stroke-width="1.9" stroke-linejoin="round" />
<path d="M602.7,83.5 C603.87,82.68 607.32,80.93 609.7,78.6 C612.08,76.27 614.67,71.73 617,69.5 C619.33,67.27 621.47,65.1 623.7,65.2 C625.93,65.3 628.27,67.15 630.4,70.1 C632.53,73.05 634.57,79.05 636.5,82.9 C638.43,86.75 640.37,91.98 642,93.2 C643.63,94.42 644.78,92.12 646.3,90.2 C647.82,88.28 649.48,84.95 651.1,81.7 C652.72,78.45 654.57,74.15 656,70.7 C657.43,67.25 658.65,63.2 659.7,61 C660.75,58.8 661.5,57.3 662.3,57.5 C663.1,57.7 663.82,59.38 664.5,62.2 C665.18,65.02 665.88,70.35 666.4,74.4 C666.92,78.45 667.2,81.63 667.6,86.5 C668,91.37 668.37,96.85 668.8,103.6 C669.23,110.35 669.82,121.12 670.2,127 C670.58,132.88 670.55,134.03 671.1,138.9 C671.65,143.77 672.53,151.55 673.5,156.2 C674.47,160.85 675.37,164.3 676.9,166.8 C678.43,169.3 681.73,170.47 682.7,171.2" fill="none" stroke="#4f8f33" stroke-width="2.1" stroke-linejoin="round" stroke-dasharray="0.01 3.45" stroke-linecap="round" />
<line x1="35.4" y1="268.7" x2="35.4" y2="404.95" stroke="#080808" stroke-width="1.3" />
<line x1="33.2" y1="394" x2="35.4" y2="394" stroke="#080808" stroke-width="1.3" />
<text x="32" y="397.58" font-size="10" text-anchor="end" fill="#1b1b1b" stroke="#1b1b1b" stroke-width="0.18">0.0</text>
<line x1="33.2" y1="373.12" x2="35.4" y2="373.12" stroke="#080808" stroke-width="1.3" />
<text x="32" y="376.7" font-size="10" text-anchor="end" fill="#1b1b1b" stroke="#1b1b1b" stroke-width="0.18">0.2</text>
<line x1="33.2" y1="352.24" x2="35.4" y2="352.24" stroke="#080808" stroke-width="1.3" />
<text x="32" y="355.82" font-size="10" text-anchor="end" fill="#1b1b1b" stroke="#1b1b1b" stroke-width="0.18">0.4</text>
<line x1="33.2" y1="331.36" x2="35.4" y2="331.36" stroke="#080808" stroke-width="1.3" />
<text x="32" y="334.94" font-size="10" text-anchor="end" fill="#1b1b1b" stroke="#1b1b1b" stroke-width="0.18">0.6</text>
<line x1="33.2" y1="310.48" x2="35.4" y2="310.48" stroke="#080808" stroke-width="1.3" />
<text x="32" y="314.06" font-size="10" text-anchor="end" fill="#1b1b1b" stroke="#1b1b1b" stroke-width="0.18">0.8</text>
<line x1="33.2" y1="289.6" x2="35.4" y2="289.6" stroke="#080808" stroke-width="1.3" />
<text x="32" y="293.18" font-size="10" text-anchor="end" fill="#1b1b1b" stroke="#1b1b1b" stroke-width="0.18">1.0</text>
<line x1="33.2" y1="268.72" x2="35.4" y2="268.72" stroke="#080808" stroke-width="1.3" />
<text x="32" y="272.3" font-size="10" text-anchor="end" fill="#1b1b1b" stroke="#1b1b1b" stroke-width="0.18">1.2</text>
<line x1="34.2" y1="383.56" x2="35.4" y2="383.56" stroke="#080808" stroke-width="1.3" />
<line x1="34.2" y1="362.68" x2="35.4" y2="362.68" stroke="#080808" stroke-width="1.3" />
<line x1="34.2" y1="341.8" x2="35.4" y2="341.8" stroke="#080808" stroke-width="1.3" />
<line x1="34.2" y1="320.92" x2="35.4" y2="320.92" stroke="#080808" stroke-width="1.3" />
<line x1="34.2" y1="300.04" x2="35.4" y2="300.04" stroke="#080808" stroke-width="1.3" />
<line x1="34.2" y1="279.16" x2="35.4" y2="279.16" stroke="#080808" stroke-width="1.3" />
<line x1="34.85" y1="404.4" x2="203" y2="404.4" stroke="#080808" stroke-width="1.3" />
<line x1="47.5" y1="404.4" x2="47.5" y2="406.9" stroke="#080808" stroke-width="1.3" />
<line x1="71.1" y1="404.4" x2="71.1" y2="406.9" stroke="#080808" stroke-width="1.3" />
<line x1="94.8" y1="404.4" x2="94.8" y2="406.9" stroke="#080808" stroke-width="1.3" />
<line x1="118.4" y1="404.4" x2="118.4" y2="406.9" stroke="#080808" stroke-width="1.3" />
<line x1="142.1" y1="404.4" x2="142.1" y2="406.9" stroke="#080808" stroke-width="1.3" />
<line x1="165.8" y1="404.4" x2="165.8" y2="406.9" stroke="#080808" stroke-width="1.3" />
<line x1="189.4" y1="404.4" x2="189.4" y2="406.9" stroke="#080808" stroke-width="1.3" />
<rect x="40.1" y="286.47" width="14.8" height="107.53" fill="#7f807f" stroke="#666" stroke-width="0.5"/>
<rect x="63.7" y="394" width="14.8" height="2.51" fill="#7f807f" stroke="#666" stroke-width="0.5"/>
<rect x="87.4" y="374.16" width="14.8" height="19.84" fill="#7f807f" stroke="#666" stroke-width="0.5"/>
<rect x="111" y="394" width="14.8" height="1.25" fill="#7f807f" stroke="#666" stroke-width="0.5"/>
<rect x="134.7" y="394" width="14.8" height="1.04" fill="#7f807f" stroke="#666" stroke-width="0.5"/>
<rect x="158.4" y="392.75" width="14.8" height="1.25" fill="#7f807f" stroke="#666" stroke-width="0.5"/>
<rect x="182" y="391.91" width="14.8" height="2.09" fill="#7f807f" stroke="#666" stroke-width="0.5"/>
<line x1="40.5" y1="286.6" x2="54.5" y2="286.6" stroke="#333" stroke-width="1.0" />
<circle cx="41.9" cy="286.1" r="1.3" fill="#2a2a2a"/>
<circle cx="47.3" cy="288" r="1.3" fill="#2a2a2a"/>
<circle cx="52.7" cy="285.5" r="1.3" fill="#2a2a2a"/>
<circle cx="65.7" cy="396.4" r="1.3" fill="#2a2a2a"/>
<circle cx="71.1" cy="396.4" r="1.3" fill="#2a2a2a"/>
<circle cx="76.7" cy="396.4" r="1.3" fill="#2a2a2a"/>
<line x1="94.8" y1="370.3" x2="94.8" y2="377.5" stroke="#333" stroke-width="0.8" />
<line x1="91.8" y1="370.3" x2="97.8" y2="370.3" stroke="#333" stroke-width="0.8" />
<line x1="91.8" y1="377.5" x2="97.8" y2="377.5" stroke="#333" stroke-width="0.8" />
<circle cx="94.8" cy="367.8" r="1.3" fill="#2a2a2a"/>
<circle cx="98.9" cy="373.7" r="1.3" fill="#2a2a2a"/>
<circle cx="91.3" cy="380.2" r="1.3" fill="#2a2a2a"/>
<line x1="114.4" y1="394.6" x2="122.4" y2="394.6" stroke="#333" stroke-width="0.9" />
<circle cx="113.6" cy="393.8" r="1.3" fill="#2a2a2a"/>
<circle cx="118.4" cy="393.4" r="1.3" fill="#2a2a2a"/>
<circle cx="122.9" cy="396.6" r="1.3" fill="#2a2a2a"/>
<line x1="138.1" y1="395" x2="146.1" y2="395" stroke="#333" stroke-width="0.9" />
<circle cx="137.6" cy="394.5" r="1.3" fill="#2a2a2a"/>
<circle cx="142.1" cy="396.5" r="1.3" fill="#2a2a2a"/>
<circle cx="146.6" cy="394" r="1.3" fill="#2a2a2a"/>
<line x1="161.8" y1="393.73" x2="169.8" y2="393.73" stroke="#333" stroke-width="0.9" />
<circle cx="161.4" cy="395.4" r="1.3" fill="#2a2a2a"/>
<circle cx="165.8" cy="390.8" r="1.3" fill="#2a2a2a"/>
<circle cx="170.3" cy="395" r="1.3" fill="#2a2a2a"/>
<line x1="185.4" y1="392.33" x2="193.4" y2="392.33" stroke="#333" stroke-width="0.9" />
<circle cx="185" cy="392.8" r="1.3" fill="#2a2a2a"/>
<circle cx="189.4" cy="391.6" r="1.3" fill="#2a2a2a"/>
<circle cx="193.8" cy="392.6" r="1.3" fill="#2a2a2a"/>
<text x="54.9" y="416" font-size="10.4" text-anchor="end" fill="#1b1b1b" stroke="#1b1b1b" stroke-width="0.18" transform="rotate(-45 54.9 416)">ATP</text>
<text x="78.5" y="416" font-size="10.4" text-anchor="end" fill="#1b1b1b" stroke="#1b1b1b" stroke-width="0.18" transform="rotate(-45 78.5 416)">ADP</text>
<text x="102.2" y="416" font-size="10.4" text-anchor="end" fill="#1b1b1b" stroke="#1b1b1b" stroke-width="0.18" transform="rotate(-45 102.2 416)">ATP</text>
<text x="125.8" y="416" font-size="10.4" text-anchor="end" fill="#1b1b1b" stroke="#1b1b1b" stroke-width="0.18" transform="rotate(-45 125.8 416)">ADP</text>
<text x="149.5" y="416" font-size="10.4" text-anchor="end" fill="#1b1b1b" stroke="#1b1b1b" stroke-width="0.18" transform="rotate(-45 149.5 416)">GTP</text>
<text x="173.2" y="416" font-size="10.4" text-anchor="end" fill="#1b1b1b" stroke="#1b1b1b" stroke-width="0.18" transform="rotate(-45 173.2 416)">AMP</text>
<text x="196.8" y="416" font-size="10.4" text-anchor="end" fill="#1b1b1b" stroke="#1b1b1b" stroke-width="0.18" transform="rotate(-45 196.8 416)">dATP</text>
<line x1="38.1" y1="435.6" x2="66.4" y2="435.6" stroke="#080808" stroke-width="1.1" />
<line x1="89.4" y1="435.6" x2="190" y2="435.6" stroke="#080808" stroke-width="1.1" />
<text x="51.6" y="449.49" font-size="10.6" text-anchor="middle" fill="#1b1b1b" stroke="#1b1b1b" stroke-width="0.18">10 mM</text>
<text x="135" y="449.49" font-size="10.6" text-anchor="middle" fill="#1b1b1b" stroke="#1b1b1b" stroke-width="0.18">1 mM</text>
<text x="14.2" y="336.8" font-size="9.9" text-anchor="middle" fill="#1b1b1b" stroke="#1b1b1b" stroke-width="0.18" transform="rotate(-90 14.2 336.8)">Δτ (ns)</text>
<line x1="253.4" y1="268.7" x2="253.4" y2="413.15" stroke="#080808" stroke-width="1.3" />
<line x1="251" y1="412.6" x2="253.4" y2="412.6" stroke="#080808" stroke-width="1.3" />
<text x="244.6" y="416.18" font-size="10" text-anchor="end" fill="#1b1b1b" stroke="#1b1b1b" stroke-width="0.18">0.0</text>
<line x1="251" y1="388.6" x2="253.4" y2="388.6" stroke="#080808" stroke-width="1.3" />
<text x="244.6" y="392.18" font-size="10" text-anchor="end" fill="#1b1b1b" stroke="#1b1b1b" stroke-width="0.18">0.2</text>
<line x1="251" y1="364.6" x2="253.4" y2="364.6" stroke="#080808" stroke-width="1.3" />
<text x="244.6" y="368.18" font-size="10" text-anchor="end" fill="#1b1b1b" stroke="#1b1b1b" stroke-width="0.18">0.4</text>
<line x1="251" y1="340.6" x2="253.4" y2="340.6" stroke="#080808" stroke-width="1.3" />
<text x="244.6" y="344.18" font-size="10" text-anchor="end" fill="#1b1b1b" stroke="#1b1b1b" stroke-width="0.18">0.6</text>
<line x1="251" y1="316.6" x2="253.4" y2="316.6" stroke="#080808" stroke-width="1.3" />
<text x="244.6" y="320.18" font-size="10" text-anchor="end" fill="#1b1b1b" stroke="#1b1b1b" stroke-width="0.18">0.8</text>
<line x1="251" y1="292.6" x2="253.4" y2="292.6" stroke="#080808" stroke-width="1.3" />
<text x="244.6" y="296.18" font-size="10" text-anchor="end" fill="#1b1b1b" stroke="#1b1b1b" stroke-width="0.18">1.0</text>
<line x1="251" y1="268.6" x2="253.4" y2="268.6" stroke="#080808" stroke-width="1.3" />
<text x="244.6" y="272.18" font-size="10" text-anchor="end" fill="#1b1b1b" stroke="#1b1b1b" stroke-width="0.18">1.2</text>
<line x1="252.85" y1="412.6" x2="356.4" y2="412.6" stroke="#080808" stroke-width="1.3" />
<line x1="253.4" y1="412.6" x2="253.4" y2="415.4" stroke="#080808" stroke-width="1.3" />
<text x="253.4" y="428.18" font-size="10" text-anchor="middle" fill="#1b1b1b" stroke="#1b1b1b" stroke-width="0.18">5</text>
<line x1="279.05" y1="412.6" x2="279.05" y2="415.4" stroke="#080808" stroke-width="1.3" />
<text x="279.05" y="428.18" font-size="10" text-anchor="middle" fill="#1b1b1b" stroke="#1b1b1b" stroke-width="0.18">6</text>
<line x1="304.7" y1="412.6" x2="304.7" y2="415.4" stroke="#080808" stroke-width="1.3" />
<text x="304.7" y="428.18" font-size="10" text-anchor="middle" fill="#1b1b1b" stroke="#1b1b1b" stroke-width="0.18">7</text>
<line x1="330.35" y1="412.6" x2="330.35" y2="415.4" stroke="#080808" stroke-width="1.3" />
<text x="330.35" y="428.18" font-size="10" text-anchor="middle" fill="#1b1b1b" stroke="#1b1b1b" stroke-width="0.18">8</text>
<line x1="356" y1="412.6" x2="356" y2="415.4" stroke="#080808" stroke-width="1.3" />
<text x="356" y="428.18" font-size="10" text-anchor="middle" fill="#1b1b1b" stroke="#1b1b1b" stroke-width="0.18">9</text>
<text x="306.3" y="438.12" font-size="10.4" text-anchor="middle" fill="#1b1b1b" stroke="#1b1b1b" stroke-width="0.18">pH</text>
<text x="226.6" y="343" font-size="9.8" text-anchor="middle" fill="#1b1b1b" stroke="#1b1b1b" stroke-width="0.18" transform="rotate(-90 226.6 343)">Normalized FI</text>
<path d="M262,407.8 L264,407.8 L271.1,406.4 L280.8,403.2 L292.4,396.8 L305,381.2 L318.8,355.6 L331.2,317.8 L339.2,299.5 L347.3,293" fill="none" stroke="#333" stroke-width="0.7" stroke-linejoin="round" />
<path d="M286.8,404.1 L290.3,402.8 L296.6,400.8 L305.7,396.2 L316.6,387.8 L328.4,373.9 L332.1,366.1 L337.4,360.6 L342,355 L346.1,351.3" fill="none" stroke="#333" stroke-width="0.7" stroke-linejoin="round" />
<rect x="258" y="403.8" width="8" height="8" fill="#9ee065" stroke="#353a35" stroke-width="0.85"/>
<rect x="260" y="403.8" width="8" height="8" fill="#9ee065" stroke="#353a35" stroke-width="0.85"/>
<rect x="267.1" y="402.4" width="8" height="8" fill="#9ee065" stroke="#353a35" stroke-width="0.85"/>
<rect x="276.8" y="399.2" width="8" height="8" fill="#9ee065" stroke="#353a35" stroke-width="0.85"/>
<rect x="288.4" y="392.8" width="8" height="8" fill="#9ee065" stroke="#353a35" stroke-width="0.85"/>
<rect x="301" y="377.2" width="8" height="8" fill="#9ee065" stroke="#353a35" stroke-width="0.85"/>
<rect x="314.8" y="351.6" width="8" height="8" fill="#9ee065" stroke="#353a35" stroke-width="0.85"/>
<rect x="327.2" y="313.8" width="8" height="8" fill="#9ee065" stroke="#353a35" stroke-width="0.85"/>
<rect x="335.2" y="295.5" width="8" height="8" fill="#9ee065" stroke="#353a35" stroke-width="0.85"/>
<rect x="343.3" y="289" width="8" height="8" fill="#9ee065" stroke="#353a35" stroke-width="0.85"/>
<path d="M262,407.8 L264,407.8 L271.1,406.4 L280.8,403.2 L292.4,396.8 L305,381.2 L318.8,355.6 L331.2,317.8 L339.2,299.5 L347.3,293" fill="none" stroke="#3a6a2a" stroke-width="0.6" stroke-linejoin="round" opacity="0.35"/>
<circle cx="286.8" cy="404.1" r="3.55" fill="#69a052" stroke="#1c261c" stroke-width="0.9"/>
<circle cx="290.3" cy="402.8" r="3.55" fill="#69a052" stroke="#1c261c" stroke-width="0.9"/>
<circle cx="296.6" cy="400.8" r="3.55" fill="#69a052" stroke="#1c261c" stroke-width="0.9"/>
<circle cx="305.7" cy="396.2" r="3.55" fill="#69a052" stroke="#1c261c" stroke-width="0.9"/>
<circle cx="316.6" cy="387.8" r="3.55" fill="#69a052" stroke="#1c261c" stroke-width="0.9"/>
<circle cx="328.4" cy="373.9" r="3.55" fill="#69a052" stroke="#1c261c" stroke-width="0.9"/>
<circle cx="332.1" cy="366.1" r="3.55" fill="#69a052" stroke="#1c261c" stroke-width="0.9"/>
<circle cx="337.4" cy="360.6" r="3.55" fill="#69a052" stroke="#1c261c" stroke-width="0.9"/>
<circle cx="342" cy="355" r="3.55" fill="#69a052" stroke="#1c261c" stroke-width="0.9"/>
<circle cx="346.1" cy="351.3" r="3.55" fill="#69a052" stroke="#1c261c" stroke-width="0.9"/>
<rect x="258.45" y="276.35" width="8.9" height="8.9" fill="#9ee065" stroke="#353a35" stroke-width="0.85"/>
<circle cx="262.9" cy="293.3" r="4.5" fill="#6a9a55" stroke="#46566a" stroke-width="0.9"/>
<text x="271.9" y="284.72" font-size="10.4" text-anchor="start" fill="#1b1b1b" stroke="#1b1b1b" stroke-width="0.18">ATP (–)</text>
<text x="271.9" y="297.02" font-size="10.4" text-anchor="start" fill="#1b1b1b" stroke="#1b1b1b" stroke-width="0.18">ATP (+)</text>
<line x1="417.1" y1="269.7" x2="417.1" y2="413.45" stroke="#080808" stroke-width="1.3" />
<line x1="414.7" y1="412.9" x2="417.1" y2="412.9" stroke="#080808" stroke-width="1.3" />
<text x="411.4" y="416.48" font-size="10" text-anchor="end" fill="#1b1b1b" stroke="#1b1b1b" stroke-width="0.18">0.0</text>
<line x1="414.7" y1="377.15" x2="417.1" y2="377.15" stroke="#080808" stroke-width="1.3" />
<text x="411.4" y="380.73" font-size="10" text-anchor="end" fill="#1b1b1b" stroke="#1b1b1b" stroke-width="0.18">1.0</text>
<line x1="414.7" y1="341.4" x2="417.1" y2="341.4" stroke="#080808" stroke-width="1.3" />
<text x="411.4" y="344.98" font-size="10" text-anchor="end" fill="#1b1b1b" stroke="#1b1b1b" stroke-width="0.18">2.0</text>
<line x1="414.7" y1="305.65" x2="417.1" y2="305.65" stroke="#080808" stroke-width="1.3" />
<text x="411.4" y="309.23" font-size="10" text-anchor="end" fill="#1b1b1b" stroke="#1b1b1b" stroke-width="0.18">3.0</text>
<line x1="414.7" y1="269.9" x2="417.1" y2="269.9" stroke="#080808" stroke-width="1.3" />
<text x="411.4" y="273.48" font-size="10" text-anchor="end" fill="#1b1b1b" stroke="#1b1b1b" stroke-width="0.18">4.0</text>
<line x1="415.5" y1="395.02" x2="417.1" y2="395.02" stroke="#080808" stroke-width="1.3" />
<line x1="415.5" y1="359.27" x2="417.1" y2="359.27" stroke="#080808" stroke-width="1.3" />
<line x1="415.5" y1="323.52" x2="417.1" y2="323.52" stroke="#080808" stroke-width="1.3" />
<line x1="415.5" y1="287.77" x2="417.1" y2="287.77" stroke="#080808" stroke-width="1.3" />
<line x1="416.55" y1="412.9" x2="521.5" y2="412.9" stroke="#080808" stroke-width="1.3" />
<line x1="417.1" y1="412.9" x2="417.1" y2="415.5" stroke="#080808" stroke-width="1.3" />
<text x="417.1" y="428.88" font-size="10" text-anchor="middle" fill="#1b1b1b" stroke="#1b1b1b" stroke-width="0.18">5</text>
<line x1="443.15" y1="412.9" x2="443.15" y2="415.5" stroke="#080808" stroke-width="1.3" />
<text x="443.15" y="428.88" font-size="10" text-anchor="middle" fill="#1b1b1b" stroke="#1b1b1b" stroke-width="0.18">6</text>
<line x1="469.2" y1="412.9" x2="469.2" y2="415.5" stroke="#080808" stroke-width="1.3" />
<text x="469.2" y="428.88" font-size="10" text-anchor="middle" fill="#1b1b1b" stroke="#1b1b1b" stroke-width="0.18">7</text>
<line x1="495.25" y1="412.9" x2="495.25" y2="415.5" stroke="#080808" stroke-width="1.3" />
<text x="495.25" y="428.88" font-size="10" text-anchor="middle" fill="#1b1b1b" stroke="#1b1b1b" stroke-width="0.18">8</text>
<line x1="521.3" y1="412.9" x2="521.3" y2="415.5" stroke="#080808" stroke-width="1.3" />
<text x="521.3" y="428.88" font-size="10" text-anchor="middle" fill="#1b1b1b" stroke="#1b1b1b" stroke-width="0.18">9</text>
<text x="469.3" y="439.72" font-size="10.4" text-anchor="middle" fill="#1b1b1b" stroke="#1b1b1b" stroke-width="0.18">pH</text>
<text x="394.6" y="342" font-size="10.4" text-anchor="middle" fill="#1b1b1b" stroke="#1b1b1b" stroke-width="0.18" transform="rotate(-90 394.6 342)">Fluorescence lifetime (ns)</text>
<path d="M424.8,358.9 L428.5,358.9 L435,354.9 L444.3,345.9 L456.4,334.7 L469.1,323.9 L482.2,319.2 L495.5,316.7 L503.9,316.7 L511.6,316.1" fill="none" stroke="#333" stroke-width="0.7" stroke-linejoin="round" />
<path d="M450.5,380 L452.1,378.1 L455.2,376.6 L461.1,374.4 L470.4,370.7 L481.2,366 L493,362.6 L497,361.7 L500.8,361.1 L505.4,359.8 L510.1,359.8" fill="none" stroke="#333" stroke-width="0.7" stroke-linejoin="round" />
<circle cx="450.5" cy="380" r="4.5" fill="#60a046" stroke="#1c261c" stroke-width="0.9"/>
<circle cx="452.1" cy="378.1" r="4.5" fill="#60a046" stroke="#1c261c" stroke-width="0.9"/>
<circle cx="455.2" cy="376.6" r="4.5" fill="#60a046" stroke="#1c261c" stroke-width="0.9"/>
<circle cx="461.1" cy="374.4" r="4.5" fill="#60a046" stroke="#1c261c" stroke-width="0.9"/>
<circle cx="470.4" cy="370.7" r="4.5" fill="#60a046" stroke="#1c261c" stroke-width="0.9"/>
<circle cx="481.2" cy="366" r="4.5" fill="#60a046" stroke="#1c261c" stroke-width="0.9"/>
<circle cx="493" cy="362.6" r="4.5" fill="#60a046" stroke="#1c261c" stroke-width="0.9"/>
<circle cx="497" cy="361.7" r="4.5" fill="#60a046" stroke="#1c261c" stroke-width="0.9"/>
<circle cx="500.8" cy="361.1" r="4.5" fill="#60a046" stroke="#1c261c" stroke-width="0.9"/>
<circle cx="505.4" cy="359.8" r="4.5" fill="#60a046" stroke="#1c261c" stroke-width="0.9"/>
<circle cx="510.1" cy="359.8" r="4.5" fill="#60a046" stroke="#1c261c" stroke-width="0.9"/>
<rect x="420.35" y="354.45" width="8.9" height="8.9" fill="#9ee065" stroke="#353a35" stroke-width="0.85"/>
<rect x="424.05" y="354.45" width="8.9" height="8.9" fill="#9ee065" stroke="#353a35" stroke-width="0.85"/>
<rect x="430.55" y="350.45" width="8.9" height="8.9" fill="#9ee065" stroke="#353a35" stroke-width="0.85"/>
<rect x="439.85" y="341.45" width="8.9" height="8.9" fill="#9ee065" stroke="#353a35" stroke-width="0.85"/>
<rect x="451.95" y="330.25" width="8.9" height="8.9" fill="#9ee065" stroke="#353a35" stroke-width="0.85"/>
<rect x="464.65" y="319.45" width="8.9" height="8.9" fill="#9ee065" stroke="#353a35" stroke-width="0.85"/>
<rect x="477.75" y="314.75" width="8.9" height="8.9" fill="#9ee065" stroke="#353a35" stroke-width="0.85"/>
<rect x="491.05" y="312.25" width="8.9" height="8.9" fill="#9ee065" stroke="#353a35" stroke-width="0.85"/>
<rect x="499.45" y="312.25" width="8.9" height="8.9" fill="#9ee065" stroke="#353a35" stroke-width="0.85"/>
<rect x="507.15" y="311.65" width="8.9" height="8.9" fill="#9ee065" stroke="#353a35" stroke-width="0.85"/>
<path d="M424.8,358.9 L428.5,358.9 L435,354.9 L444.3,345.9 L456.4,334.7 L469.1,323.9 L482.2,319.2 L495.5,316.7 L503.9,316.7 L511.6,316.1" fill="none" stroke="#3a6a2a" stroke-width="0.6" stroke-linejoin="round" opacity="0.35"/>
<rect x="422.25" y="275.35" width="8.9" height="8.9" fill="#9ee065" stroke="#353a35" stroke-width="0.85"/>
<circle cx="426.5" cy="292" r="4.5" fill="#6a9a55" stroke="#46566a" stroke-width="0.9"/>
<text x="436" y="283.62" font-size="10.4" text-anchor="start" fill="#1b1b1b" stroke="#1b1b1b" stroke-width="0.18">ATP (–)</text>
<text x="436" y="295.72" font-size="10.4" text-anchor="start" fill="#1b1b1b" stroke="#1b1b1b" stroke-width="0.18">ATP (+)</text>
<line x1="574.4" y1="277" x2="574.4" y2="415.95" stroke="#080808" stroke-width="1.3" />
<line x1="571.4" y1="415.4" x2="574.4" y2="415.4" stroke="#080808" stroke-width="1.3" />
<text x="566" y="418.98" font-size="10" text-anchor="end" fill="#1b1b1b" stroke="#1b1b1b" stroke-width="0.18">1.0</text>
<line x1="571.4" y1="380.9" x2="574.4" y2="380.9" stroke="#080808" stroke-width="1.3" />
<text x="566" y="384.48" font-size="10" text-anchor="end" fill="#1b1b1b" stroke="#1b1b1b" stroke-width="0.18">1.5</text>
<line x1="571.4" y1="346.4" x2="574.4" y2="346.4" stroke="#080808" stroke-width="1.3" />
<text x="566" y="349.98" font-size="10" text-anchor="end" fill="#1b1b1b" stroke="#1b1b1b" stroke-width="0.18">2.0</text>
<line x1="571.4" y1="311.9" x2="574.4" y2="311.9" stroke="#080808" stroke-width="1.3" />
<text x="566" y="315.48" font-size="10" text-anchor="end" fill="#1b1b1b" stroke="#1b1b1b" stroke-width="0.18">2.5</text>
<line x1="571.4" y1="277.4" x2="574.4" y2="277.4" stroke="#080808" stroke-width="1.3" />
<text x="566" y="280.98" font-size="10" text-anchor="end" fill="#1b1b1b" stroke="#1b1b1b" stroke-width="0.18">3.0</text>
<line x1="573.85" y1="415.4" x2="671.9" y2="415.4" stroke="#080808" stroke-width="1.3" />
<line x1="574.4" y1="415.4" x2="574.4" y2="418.4" stroke="#080808" stroke-width="1.3" />
<text x="574.4" y="430.58" font-size="10" text-anchor="middle" fill="#1b1b1b" stroke="#1b1b1b" stroke-width="0.18">0</text>
<line x1="598.65" y1="415.4" x2="598.65" y2="418.4" stroke="#080808" stroke-width="1.3" />
<text x="598.65" y="430.58" font-size="10" text-anchor="middle" fill="#1b1b1b" stroke="#1b1b1b" stroke-width="0.18">5</text>
<line x1="622.9" y1="415.4" x2="622.9" y2="418.4" stroke="#080808" stroke-width="1.3" />
<text x="622.9" y="430.58" font-size="10" text-anchor="middle" fill="#1b1b1b" stroke="#1b1b1b" stroke-width="0.18">10</text>
<line x1="647.15" y1="415.4" x2="647.15" y2="418.4" stroke="#080808" stroke-width="1.3" />
<text x="647.15" y="430.58" font-size="10" text-anchor="middle" fill="#1b1b1b" stroke="#1b1b1b" stroke-width="0.18">15</text>
<line x1="671.4" y1="415.4" x2="671.4" y2="418.4" stroke="#080808" stroke-width="1.3" />
<text x="671.4" y="430.58" font-size="10" text-anchor="middle" fill="#1b1b1b" stroke="#1b1b1b" stroke-width="0.18">20</text>
<text x="622.4" y="442.02" font-size="10.4" text-anchor="middle" fill="#1b1b1b" stroke="#1b1b1b" stroke-width="0.18">ATP&#160; (mM)</text>
<text x="545.6" y="347" font-size="10.4" text-anchor="middle" fill="#1b1b1b" stroke="#1b1b1b" stroke-width="0.18" transform="rotate(-90 545.6 347)">Fluorescence lifetime (ns)</text>
<circle cx="573.6" cy="325.7" r="3.9" fill="none" stroke="#222" stroke-width="0.8"/>
<line x1="571.8" y1="325.7" x2="577" y2="325.7" stroke="#111" stroke-width="1.6" />
<circle cx="598.65" cy="339.22" r="3.9" fill="none" stroke="#222" stroke-width="0.8"/>
<line x1="596.05" y1="339.22" x2="601.25" y2="339.22" stroke="#111" stroke-width="1.6" />
<circle cx="622.9" cy="350.19" r="3.9" fill="none" stroke="#222" stroke-width="0.8"/>
<line x1="620.3" y1="350.19" x2="625.5" y2="350.19" stroke="#111" stroke-width="1.6" />
<circle cx="647.15" cy="360.48" r="3.9" fill="none" stroke="#222" stroke-width="0.8"/>
<line x1="644.55" y1="360.48" x2="649.75" y2="360.48" stroke="#111" stroke-width="1.6" />
<circle cx="671.4" cy="366" r="3.9" fill="none" stroke="#222" stroke-width="0.8"/>
<line x1="668.8" y1="366" x2="674" y2="366" stroke="#111" stroke-width="1.6" />
<circle cx="574.4" cy="307.41" r="3.9" fill="rgba(100,140,222,0.85)" stroke="#1c2b52" stroke-width="0.9"/>
<circle cx="575.61" cy="312.59" r="3.9" fill="rgba(100,140,222,0.85)" stroke="#1c2b52" stroke-width="0.9"/>
<circle cx="576.82" cy="315.35" r="3.9" fill="rgba(100,140,222,0.85)" stroke="#1c2b52" stroke-width="0.9"/>
<circle cx="578.04" cy="317.42" r="3.9" fill="rgba(100,140,222,0.85)" stroke="#1c2b52" stroke-width="0.9"/>
<circle cx="579.25" cy="322.94" r="3.9" fill="rgba(100,140,222,0.85)" stroke="#1c2b52" stroke-width="0.9"/>
<circle cx="584.1" cy="341.57" r="3.9" fill="rgba(100,140,222,0.85)" stroke="#1c2b52" stroke-width="0.9"/>
<circle cx="593.8" cy="367.1" r="3.9" fill="rgba(100,140,222,0.85)" stroke="#1c2b52" stroke-width="0.9"/>
<circle cx="603.5" cy="374.9" r="3.9" fill="rgba(100,140,222,0.85)" stroke="#1c2b52" stroke-width="0.9"/>
<circle cx="613.2" cy="377.93" r="3.9" fill="rgba(100,140,222,0.85)" stroke="#1c2b52" stroke-width="0.9"/>
<circle cx="622.9" cy="380.21" r="3.9" fill="rgba(100,140,222,0.85)" stroke="#1c2b52" stroke-width="0.9"/>
<circle cx="671.4" cy="386.76" r="3.9" fill="rgba(100,140,222,0.85)" stroke="#1c2b52" stroke-width="0.9"/>
<path d="M574.88,323.63 C576.83,325.01 582.56,329.31 586.52,331.91 C590.49,334.51 594.61,336.98 598.65,339.22 C602.69,341.47 606.73,343.48 610.77,345.36 C614.82,347.25 618.86,348.76 622.9,350.54 C626.94,352.32 630.98,354.4 635.02,356.06 C639.07,357.72 643.11,359.23 647.15,360.48 C651.19,361.72 655.23,362.59 659.27,363.51 C663.32,364.43 669.38,365.58 671.4,366" fill="none" stroke="#111" stroke-width="1.2" stroke-linejoin="round" />
<path d="M574.4,305 C574.8,306.38 576.02,310.29 576.82,313.28 C577.63,316.27 578.44,319.72 579.25,322.94 C580.06,326.16 580.87,329.49 581.67,332.6 C582.48,335.7 582.89,337.66 584.1,341.57 C585.31,345.48 587.33,352.03 588.95,356.06 C590.57,360.08 592.18,363.19 593.8,365.72 C595.42,368.25 597.03,369.75 598.65,371.24 C600.27,372.74 601.08,373.54 603.5,374.69 C605.92,375.84 609.97,377.22 613.2,378.14 C616.43,379.06 618.86,379.52 622.9,380.21 C626.94,380.9 632.6,381.76 637.45,382.28 C642.3,382.8 646.34,383.03 652,383.31 C657.66,383.6 668.17,383.89 671.4,384" fill="none" stroke="#4a7fd6" stroke-width="1.2" stroke-linejoin="round" />
<line x1="671.4" y1="382.2" x2="671.4" y2="390.3" stroke="#1c2b52" stroke-width="0.9" />
<line x1="668.9" y1="390.3" x2="673.9" y2="390.3" stroke="#111" stroke-width="1.0" />
<circle cx="641.9" cy="292.8" r="4.5" fill="#8fb0e2" stroke="#4a6aa6" stroke-width="0.7"/>
<circle cx="641.9" cy="304.6" r="4.5" fill="#fff" stroke="#6a7fa6" stroke-width="0.7"/>
<text x="649.7" y="296.12" font-size="10.4" text-anchor="start" fill="#1b1b1b" stroke="#1b1b1b" stroke-width="0.18">RT</text>
<text x="649.7" y="308.22" font-size="10.4" text-anchor="start" fill="#1b1b1b" stroke="#1b1b1b" stroke-width="0.18">37ºC</text>
</svg>
</body></html>
